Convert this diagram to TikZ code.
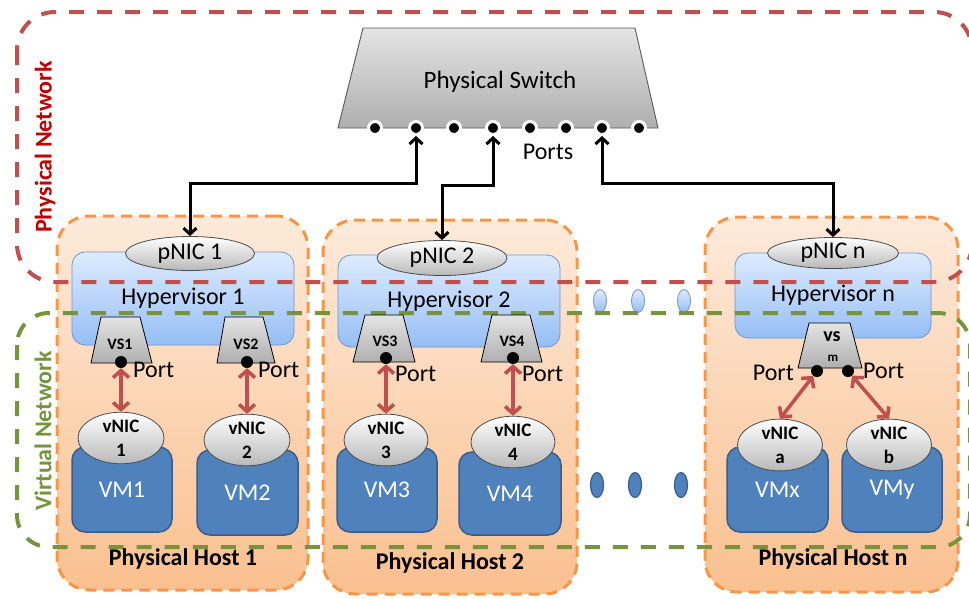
\documentclass[tikz,border=0pt]{standalone}
\usepackage{fontspec}
\setmainfont{Carlito}
\usetikzlibrary{shapes.geometric,arrows.meta}

\definecolor{netred}{RGB}{192,80,77}
\definecolor{labred}{RGB}{192,0,0}
\definecolor{netgreen}{RGB}{119,147,60}
\definecolor{hostorange}{RGB}{247,150,70}
\definecolor{hosttop}{RGB}{253,234,218}
\definecolor{hostbot}{RGB}{250,192,143}
\definecolor{hvtop}{RGB}{222,235,255}
\definecolor{hvbot}{RGB}{150,190,245}
\definecolor{hvline}{RGB}{110,150,210}
\definecolor{vmblue}{RGB}{79,129,189}
\definecolor{vmline}{RGB}{56,93,138}
\definecolor{nicgray}{RGB}{185,185,185}
\definecolor{swtop}{RGB}{228,228,228}
\definecolor{swbot}{RGB}{175,175,175}

\begin{document}
\begin{tikzpicture}[x=1pt,y=-1pt,
  host/.style={draw=hostorange, line width=3pt, dash pattern=on 11pt off 7pt,
    rounded corners=32pt, top color=hosttop, bottom color=hostbot, inner sep=0},
  hyper/.style={draw=hvline, line width=0.8pt, rounded corners=13pt,
    top color=hvtop, bottom color=hvbot, inner sep=0,
    font=\fontsize{24}{28}\selectfont},
  nic/.style={ellipse, draw=black!70, line width=0.8pt, top color=white,
    bottom color=nicgray, inner sep=0},
  pnic/.style={nic, font=\fontsize{24}{28}\selectfont},
  vnic/.style={nic, align=center, font=\bfseries\fontsize{19}{24}\selectfont},
  vm/.style={draw=vmline, line width=1.5pt, fill=vmblue, rounded corners=13pt,
    inner sep=0, text=white, font=\fontsize{24}{28}\selectfont},
  vsbox/.style={draw=black, line width=0.8pt, top color=swtop, bottom color=swbot},
  vslabel/.style={inner sep=0, font=\bfseries\fontsize{16}{19}\selectfont},
  vport/.style={circle, fill=black, minimum size=12pt, inner sep=0},
  swport/.style={circle, fill=black, draw=white, line width=3pt,
    minimum size=13pt, inner sep=0},
  txt/.style={inner sep=0, font=\fontsize{24}{28}\selectfont},
  hostlabel/.style={inner sep=0, font=\bfseries\fontsize{24}{28}\selectfont},
  netlabel/.style={inner sep=0, rotate=90, font=\bfseries\fontsize{24}{28}\selectfont},
  physnet/.style={draw=netred, line width=4pt, dash pattern=on 15pt off 13pt},
  virtnet/.style={draw=netgreen, line width=4pt, dash pattern=on 15pt off 13pt},
  conn/.style={draw=black, line width=3pt,
    {Straight Barb[length=6pt,width=13pt]}-{Straight Barb[length=6pt,width=13pt]}},
  vlink/.style={draw=netred, line width=3.6pt,
    {Straight Barb[length=7pt,width=16pt]}-{Straight Barb[length=7pt,width=16pt]}},
  moredim/.style={ellipse, draw=hvline, line width=0.8pt, top color=hvtop,
    bottom color=hvbot, minimum width=13pt, minimum height=23pt, inner sep=0},
  moredark/.style={ellipse, draw=vmline, line width=1.2pt, fill=vmblue,
    minimum width=13pt, minimum height=25pt, inner sep=0}
]
\useasboundingbox (0,0) rectangle (969,598);
\clip (0,0) rectangle (969,598);

% physical hosts
\node[host, minimum width=251pt, minimum height=374pt] (h1) at (182.5,403) {};
\node[host, minimum width=254pt, minimum height=374pt] (h2) at (450,407) {};
\node[host, minimum width=253pt, minimum height=375pt] (hn) at (831.5,404.5) {};

% hypervisors
\node[hyper, minimum width=222pt, minimum height=93pt] (hv1) at (183,298.5) {Hypervisor 1};
\node[hyper, minimum width=222pt, minimum height=92pt] (hv2) at (449,301) {Hypervisor 2};
\node[hyper, minimum width=196pt, minimum height=85pt] (hvn) at (833,295.5) {Hypervisor n};

% physical NICs
\node[pnic, minimum width=129pt, minimum height=34pt] (p1) at (190,253.5) {pNIC 1};
\node[pnic, minimum width=130pt, minimum height=35pt] (p2) at (442,258) {pNIC 2};
\node[pnic, minimum width=131pt, minimum height=31pt] (pn) at (833,253) {pNIC n};

% more hosts in between
\node[moredim] (e1) at (600,301) {};
\node[moredim] (e2) at (638,301) {};
\node[moredim] (e3) at (684,301) {};
\node[moredark] (f1) at (597,485) {};
\node[moredark] (f2) at (635,485) {};
\node[moredark] (f3) at (681,485) {};

% network domains
\draw[physnet, rounded corners=38pt] (17,12) rectangle (972,282);
\draw[virtnet, rounded corners=32pt] (17,313) rectangle (970,547);
\node[netlabel, text=labred] (lphys) at (45,147) {Physical Network};
\node[netlabel, text=netgreen] (lvirt) at (43,431) {Virtual Network};

% virtual switches
\draw[vsbox] (101,317) -- (140,317) -- (152,363) -- (91,363) -- cycle;
\draw[vsbox] (225,317) -- (263,317) -- (275,363) -- (217,363) -- cycle;
\draw[vsbox] (365,315) -- (403,315) -- (415,362) -- (353,362) -- cycle;
\draw[vsbox] (492,315) -- (530,315) -- (542,362) -- (481,362) -- cycle;
\draw[vsbox] (809,323) -- (850,323) -- (862,368) -- (798,368) -- cycle;
\node[vslabel] (vs1) at (120,344) {VS1};
\node[vslabel] (vs2) at (246,344) {VS2};
\node[vslabel] (vs3) at (385,341) {VS3};
\node[vslabel] (vs4) at (512,341) {VS4};
\node[inner sep=0, font=\bfseries\fontsize{20}{24}\selectfont] (vsm) at (832,337) {vs};
\node[inner sep=0, font=\bfseries\fontsize{13}{15}\selectfont] (vsmb) at (833,358) {m};

% virtual switch ports
\node[vport] (d1) at (121,362) {};
\node[vport] (d2) at (247,362) {};
\node[vport] (d3) at (386,358) {};
\node[vport] (d4) at (513,358) {};
\node[vport] (dl) at (817,371) {};
\node[vport] (dr) at (848,371) {};
\node[txt, anchor=west] (t1) at (133,370) {Port};
\node[txt, anchor=west] (t2) at (258,370) {Port};
\node[txt, anchor=west] (t3) at (395,374) {Port};
\node[txt, anchor=west] (t4) at (522,374) {Port};
\node[txt, anchor=east] (tl) at (794,373) {Port};
\node[txt, anchor=west] (tr) at (863,371) {Port};

% virtual machines
\node[vm, minimum width=100pt, minimum height=85pt] (m1) at (122,489.5) {VM1};
\node[vm, minimum width=101pt, minimum height=85pt] (m2) at (247.5,492.5) {VM2};
\node[vm, minimum width=100pt, minimum height=84pt] (m3) at (387,490) {VM3};
\node[vm, minimum width=102pt, minimum height=83pt] (m4) at (510,493.5) {VM4};
\node[vm, minimum width=101pt, minimum height=85pt] (mx) at (777.5,489.5) {VMx};
\node[vm, minimum width=100pt, minimum height=85pt] (my) at (892,489.5) {VMy};

% virtual NICs
\node[vnic, minimum width=86pt, minimum height=47pt] (v1) at (121,438) {vNIC\\1};
\node[vnic, minimum width=86pt, minimum height=46pt] (v2) at (247,440) {vNIC\\2};
\node[vnic, minimum width=84pt, minimum height=46pt] (v3) at (386,440) {vNIC\\3};
\node[vnic, minimum width=84pt, minimum height=46pt] (v4) at (513,442) {vNIC\\4};
\node[vnic, minimum width=85pt, minimum height=46pt] (va) at (780,445) {vNIC\\a};
\node[vnic, minimum width=85pt, minimum height=46pt] (vb) at (889,445) {vNIC\\b};

\draw[vlink] (d1) -- (v1.north);
\draw[vlink] (d2) -- (v2.north);
\draw[vlink] (d3) -- (v3.north);
\draw[vlink] (d4) -- (v4.north);
\draw[vlink] (dl) -- (va.north);
\draw[vlink] (dr) -- (vb.north);

% host labels
\node[hostlabel] (l1) at (183,559) {Physical Host 1};
\node[hostlabel] (l2) at (450,563) {Physical Host 2};
\node[hostlabel] (ln) at (833,559) {Physical Host n};

% physical switch
\draw[draw=black!65, line width=0.9pt, top color=swtop, bottom color=swbot]
  (363,28) -- (635,28) -- (658,128) -- (338,128) -- cycle;
\node[inner sep=0, font=\fontsize{25}{29}\selectfont] (sw) at (500,82) {Physical Switch};
\foreach \i/\x in {1/375,2/416,3/454,4/493,5/530,6/566,7/602,8/639}
  \node[swport] (sp\i) at (\x,128) {};
\node[txt] (ports) at (548,152) {Ports};

% uplinks from the physical NICs to the switch
\coordinate (k1) at (416,183);
\coordinate (k2) at (493,185);
\coordinate (k3) at (602,183);
\draw[conn] (p1.north) |- (k1) -- (sp2);
\draw[conn] (p2.north) |- (k2) -- (sp4);
\draw[conn] (pn.north) |- (k3) -- (sp7);
\end{tikzpicture}
\end{document}
